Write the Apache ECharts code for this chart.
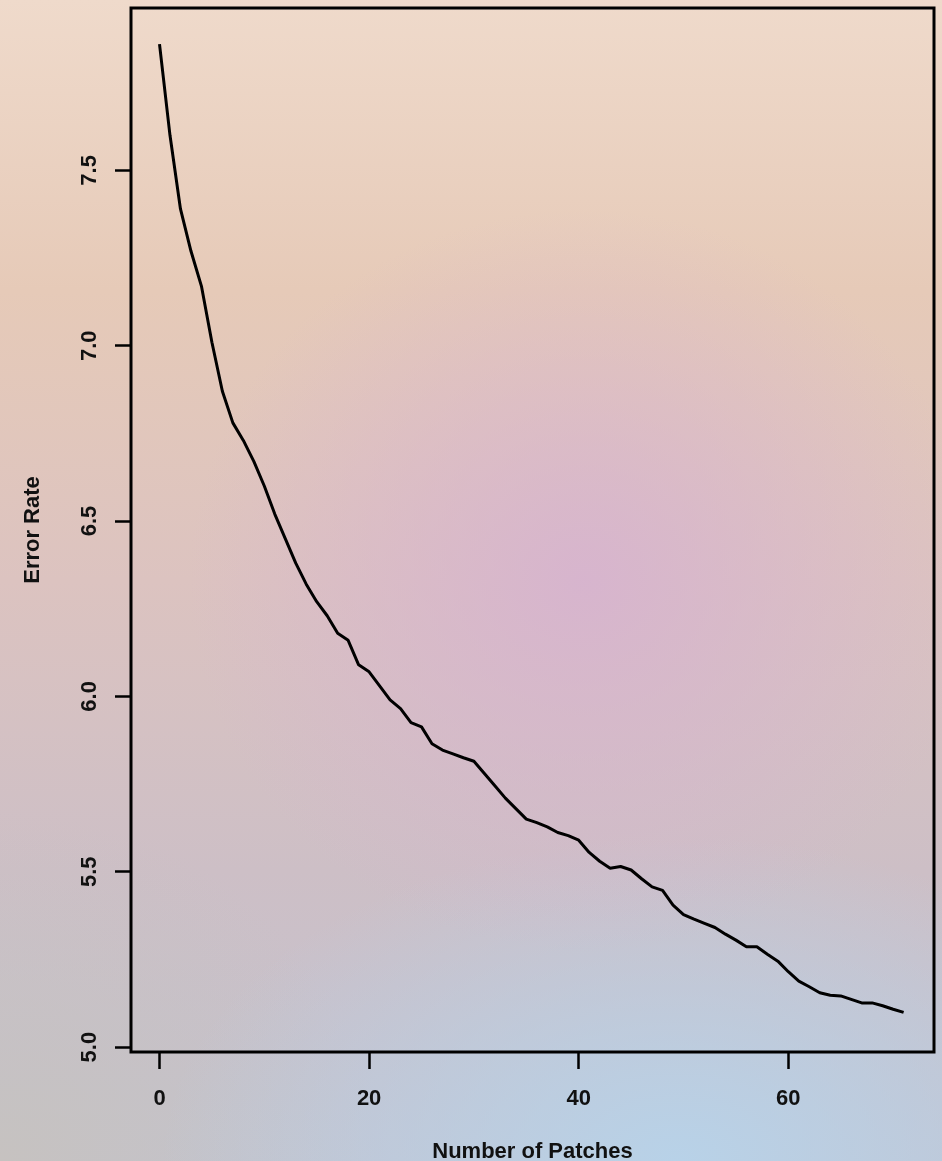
<!DOCTYPE html>
<html>
<head>
<meta charset="utf-8">
<script src="https://cdn.jsdelivr.net/npm/echarts@6/dist/echarts.min.js"></script>
<style>
html, body { margin: 0; padding: 0; }
#bg {
  position: absolute; left: 0; top: 0; width: 942px; height: 1161px;
  background:
    radial-gradient(ellipse 42% 32% at 62% 50%, rgba(214,178,208,0.85), rgba(214,178,208,0) 100%),
    radial-gradient(ellipse 55% 28% at 72% 100%, rgba(184,210,232,1), rgba(184,210,232,0) 100%),
    radial-gradient(ellipse 40% 30% at 0% 100%, rgba(198,194,192,1), rgba(198,194,192,0) 100%),
    linear-gradient(to bottom, #efdacb 0%, #e6cab8 25%, #dcc3c0 50%, #cdbfc6 75%, #c3c3d0 100%);
}
#chart { position: absolute; left: 0; top: 0; width: 942px; height: 1161px; }
</style>
</head>
<body>
<div id="bg"></div>
<div id="chart"></div>
<script>
// ---- data ----
const patches = [0,1,2,3,4,5,6,7,8,9,10,11,12,13,14,15,16,17,18,19,20,21,22,23,24,25,26,27,28,29,30,31,32,33,34,35,36,37,38,39,40,41,42,43,44,45,46,47,48,49,50,51,52,53,54,55,56,57,58,59,60,61,62,63,64,65,66,67,68,69,70,71];
const errorRate = [7.86,7.60,7.39,7.27,7.17,7.01,6.87,6.78,6.73,6.67,
                   6.60,6.52,6.45,6.38,6.32,6.27,6.23,6.18,6.16,6.09,
                   6.07,6.03,5.99,5.965,5.925,5.913,5.865,5.847,5.836,5.825,
                   5.815,5.78,5.745,5.71,5.68,5.65,5.64,5.628,5.612,5.603,
                   5.59,5.555,5.53,5.51,5.515,5.505,5.48,5.457,5.447,5.405,
                   5.378,5.365,5.353,5.341,5.322,5.305,5.286,5.286,5.265,5.245,
                   5.215,5.188,5.172,5.155,5.148,5.146,5.136,5.126,5.126,5.118,
                   5.108,5.099];
const xTicks = [0, 20, 40, 60];
const yTicks = [5.0, 5.5, 6.0, 6.5, 7.0, 7.5];
const xTitle = 'Number of Patches';
const yTitle = 'Error Rate';

const seriesData = patches.map((p, i) => [p, errorRate[i]]);
const FONT = '"Liberation Sans", Arial, Helvetica, sans-serif';

const chart = echarts.init(document.getElementById('chart'), null, { renderer: 'canvas' });
chart.setOption({
  backgroundColor: 'transparent',
  animation: false,
  grid: {
    left: 131, right: 8, top: 8, bottom: 109,
    containLabel: false, outerBoundsMode: 'none',
    show: true, borderColor: '#000', borderWidth: 3, backgroundColor: 'transparent'
  },
  xAxis: {
    type: 'value', min: -2.72, max: 73.9,
    name: xTitle, nameLocation: 'middle', nameGap: 89,
    nameTextStyle: { fontFamily: FONT, fontSize: 22, fontWeight: 'bold', color: '#111' },
    axisLine: { show: false, onZero: false },
    splitLine: { show: false },
    axisTick: { show: true, inside: false, length: 17, lineStyle: { color: '#000', width: 2.5 }, customValues: xTicks },
    axisLabel: { customValues: xTicks, margin: 36, fontFamily: FONT, fontSize: 22, fontWeight: 'bold', color: '#111' }
  },
  yAxis: {
    type: 'value', min: 4.986, max: 7.963,
    name: yTitle, nameLocation: 'middle', nameGap: 87, nameRotate: 90,
    nameTextStyle: { fontFamily: FONT, fontSize: 22, fontWeight: 'bold', color: '#111' },
    axisLine: { show: false, onZero: false },
    splitLine: { show: false },
    axisTick: { show: true, inside: false, length: 16, lineStyle: { color: '#000', width: 2.5 }, customValues: yTicks },
    axisLabel: { customValues: yTicks, rotate: 90, margin: 30, fontFamily: FONT, fontSize: 22, fontWeight: 'bold', color: '#111',
                 formatter: v => Number(v).toFixed(1) }
  },
  series: [{
    type: 'line', data: seriesData, showSymbol: false, smooth: false,
    lineStyle: { color: '#000', width: 3 }, clip: true
  }]
});
</script>
</body>
</html>
